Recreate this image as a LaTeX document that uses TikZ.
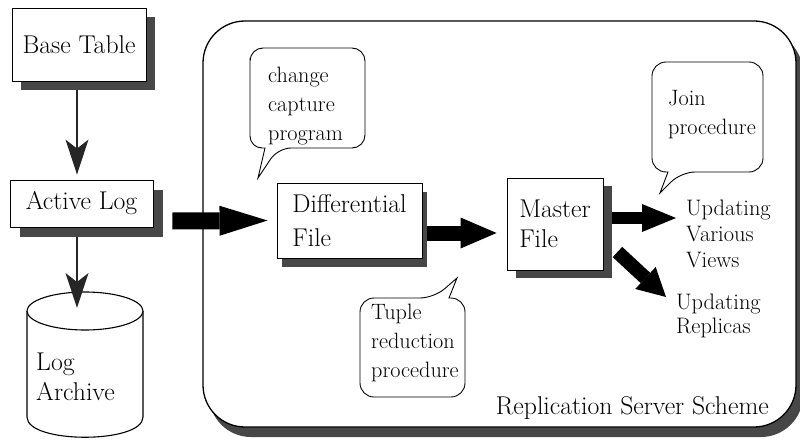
\documentclass[tikz,border=0pt]{standalone}
\usetikzlibrary{arrows.meta,shadows}
\begin{document}
\begin{tikzpicture}[x=1pt,y=-1pt,
  bigfont/.style={font=\fontsize{25.7}{30}\selectfont},
  smallfont/.style={font=\fontsize{22.2}{29}\selectfont},
  shadecol/.style={fill=black!72},
  withshadow/.style 2 args={general shadow={shadow xshift=#1, shadow yshift=#2, fill=black!72}},
  box/.style={draw=black, line width=0.9pt, fill=white, align=left, bigfont, inner sep=0pt},
  txt/.style={align=left, inner sep=0pt, anchor=west},
  callout/.style={draw=black, line width=0.9pt, fill=white},
  thinarrow/.style={draw=black!85, line width=2.5pt,
    -{Stealth[length=35pt, width=23pt, inset=9pt, line width=0pt]}},
  blockarrow/.style n args={3}{draw=black, line width=#1,
    -{Triangle[length=#2, width=#3, line width=0pt]}}
]
\useasboundingbox (0,0) rectangle (800,441);

% replication server frame with its shadow
\fill[shadecol, rounded corners=42pt] (209,31) rectangle (803,437);
\draw[fill=white, line width=1.3pt, rounded corners=42pt] (203,21) rectangle (796,427);

% boxes
\node[box, withshadow={9pt}{-9pt}, minimum width=134pt, minimum height=73pt]
  (base) at (79,44.5) {Base Table};
\node[box, withshadow={10pt}{-10pt}, minimum width=143pt, minimum height=47pt]
  (active) at (81.5,203.5) {Active Log};
\node[box, withshadow={5pt}{-9pt}, minimum width=145pt, minimum height=75pt,
  font=\fontsize{25.7}{34}\selectfont] (diff) at (349.5,220.5) {Differential\\File};
\node[box, withshadow={9pt}{-8pt}, minimum width=96pt, minimum height=92pt]
  (master) at (555,224) {Master\\File};

% log archive cylinder
\draw[fill=white, line width=1.1pt] (27,311) -- (27,417)
  .. controls (27,444) and (143,444) .. (143,417) -- (143,311);
\draw[fill=white, line width=1.1pt] (85,311) ellipse [x radius=58, y radius=19];
\node[txt, bigfont] (archive) at (36,377) {Log\\Archive};
\coordinate (archtop) at (77,308);

% callouts
\draw[callout] (250,70) [rounded corners=13pt] -- (250,48) -- (365,48) -- (365,148)
  -- (278,148) [sharp corners] -- (258,178) -- (265,148) [rounded corners=12pt]
  -- (250,148) -- cycle;
\node[txt, smallfont] (capture) at (268,106) {change\\capture\\program};

\draw[callout] (652,90) [rounded corners=14pt] -- (652,62) -- (763,62) -- (763,172)
  -- (681,172) [sharp corners] -- (660,193) -- (668,172) [rounded corners=14pt]
  -- (652,172) -- cycle;
\node[txt, smallfont] (join) at (668,115) {Join\\procedure};

\draw[callout] (360,330) [rounded corners=14pt] -- (360,298) -- (434,298)
  [sharp corners] -- (457,278) -- (449,298) [rounded corners=14pt]
  -- (465,298) -- (465,397) -- (360,397) -- cycle;
\node[txt, smallfont] (tuple) at (371,343) {Tuple\\reduction\\procedure};

% result labels
\node[txt, font=\fontsize{22.4}{26}\selectfont] (views) at (686,234) {Updating\\Various\\Views};
\node[txt, font=\fontsize{22.4}{24}\selectfont] (replicas) at (676,316) {Updating\\Replicas};
\node[inner sep=0pt, anchor=east, bigfont] (scheme) at (769,408) {Replication Server Scheme};

% thin arrows
\draw[thinarrow] ([xshift=-2pt,yshift=-9pt]base.south) -- ([xshift=-4.5pt,yshift=5pt]active.north);
\draw[thinarrow] ([xshift=-4.5pt,yshift=-10pt]active.south) -- (archtop);

% block arrows
\draw[blockarrow={17pt}{48pt}{30pt}] ([xshift=19pt,yshift=-17.5pt]active.east)
  -- ([xshift=-9pt]diff.west);
\draw[blockarrow={15pt}{36pt}{31pt}] ([xshift=5pt,yshift=-12.5pt]diff.east)
  -- ([xshift=-10pt,yshift=-9pt]master.west);
\draw[blockarrow={12pt}{34pt}{28pt}] ([xshift=9pt,yshift=6pt]master.east)
  -- ([xshift=-10pt,yshift=16pt]views.west);
\draw[blockarrow={14pt}{28pt}{30pt}] ([xshift=14pt,yshift=-28pt]master.east)
  -- ([xshift=-10pt,yshift=19pt]replicas.west);
\end{tikzpicture}
\end{document}
